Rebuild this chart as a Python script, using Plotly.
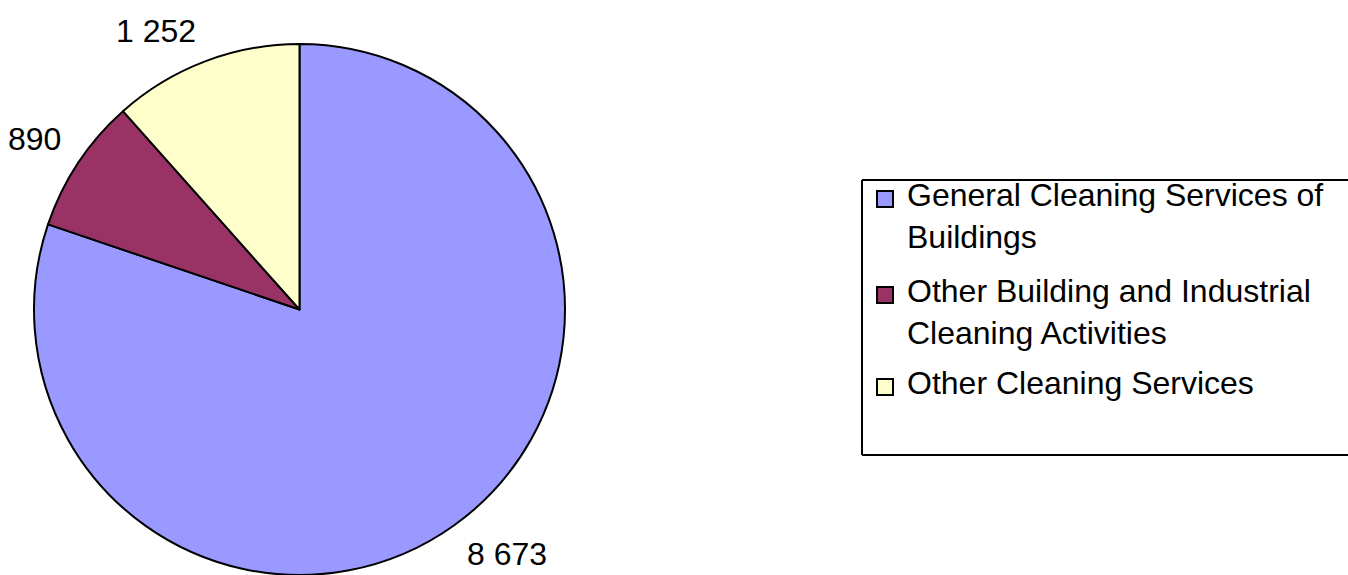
import math
import plotly.graph_objects as go

labels = ["General Cleaning Services of Buildings",
          "Other Building and Industrial Cleaning Activities",
          "Other Cleaning Services"]
legend_text = ["General Cleaning Services of<br>Buildings",
               "Other Building and Industrial<br>Cleaning Activities",
               "Other Cleaning Services"]
values = [8673, 890, 1252]
colors = ["#9999FF", "#993366", "#FFFFCC"]

W, H = 1348, 575
OFF = 0  # page body margin removed below
FONT = "Liberation Sans, Arial, sans-serif"
LBL = 32


def X(px):
    return (px - OFF) / W


def Y(py):
    return 1 - (py - OFF) / H


# pie geometry (screen pixels)
cx, cy, r = 299.5, 310, 266
dom_x = [X(cx - r), X(cx + r)]
dom_y = [max(0, Y(cy + r)), Y(cy - r)]

fig = go.Figure()
fig.add_trace(go.Pie(
    labels=labels, values=values, sort=False, direction="clockwise",
    rotation=0, textinfo="none", hoverinfo="label+value",
    marker=dict(colors=colors, line=dict(color="black", width=2)),
    domain=dict(x=dom_x, y=dom_y), showlegend=False,
))

annotations = []
shapes = []
total = sum(values)
cum = 0
gap = 16
for v in values:
    mid = (cum + v / 2) / total * 2 * math.pi
    cum += v
    dx, dy = math.sin(mid), math.cos(mid)  # dy positive = up
    txt = f"{v:,}".replace(",", " ")
    w = sum(0.278 if ch == " " else 0.556 for ch in txt) * LBL
    hb = 30
    px = cx + dx * (r + gap) + math.copysign(w / 2 + 3, dx)
    py = cy - dy * (r + gap) - math.copysign(hb / 2, dy)
    annotations.append(dict(
        x=X(px), y=Y(py), xref="paper", yref="paper",
        text=txt, showarrow=False, xanchor="center", yanchor="middle",
        font=dict(family=FONT, size=LBL, color="black"),
    ))

# legend frame (right side runs off the page)
line = dict(color="black", width=2)
for (ax0, ay0, ax1, ay1) in [(862, 180, 1400, 180), (862, 455, 1400, 455), (862, 180, 862, 455)]:
    shapes.append(dict(type="line", xref="paper", yref="paper",
                       x0=X(ax0), y0=Y(ay0), x1=X(ax1), y1=Y(ay1), line=line))
entry_centers = [199, 295, 387]
for yc, t, c in zip(entry_centers, legend_text, colors):
    shapes.append(dict(type="rect", xref="paper", yref="paper",
                       x0=X(877), x1=X(893), y0=Y(yc + 8), y1=Y(yc - 8),
                       line=dict(color="black", width=2), fillcolor=c))
    annotations.append(dict(
        x=X(905), y=Y(yc - 24), xref="paper", yref="paper",
        text=t, showarrow=False, xanchor="left", yanchor="top", align="left",
        font=dict(family=FONT, size=32, color="black"),
    ))

fig.update_layout(
    width=W, height=H, margin=dict(l=0, r=0, t=0, b=0),
    paper_bgcolor="white", plot_bgcolor="white",
    annotations=annotations, shapes=shapes, showlegend=False,
)
fig.write_html("out.html", config={"displayModeBar": False},
               post_script="document.body.style.margin='0';document.body.style.overflow='hidden';")
